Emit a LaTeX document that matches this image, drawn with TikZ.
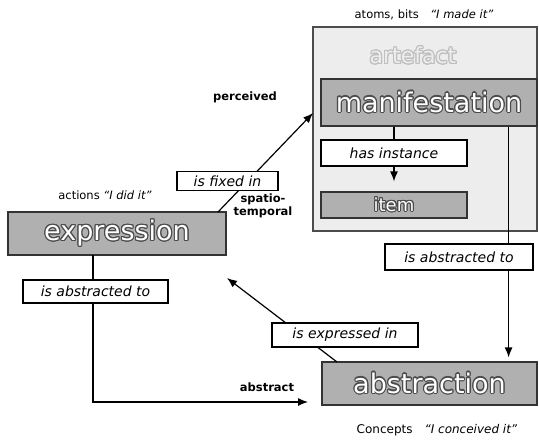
\documentclass[tikz,border=0pt]{standalone}
\usepackage{fontspec}
\setmainfont{DejaVu Sans}
\usepackage[copies]{contour}
\usetikzlibrary{arrows.meta}
\usetikzlibrary{calc}
\tikzset{>={Latex[length=10,width=8]}}
\contourlength{1.1pt}
\colorlet{boxcol}{gray!62}
\colorlet{artcol}{gray!14}
\colorlet{rimcol}{black!80}
\tikzstyle{artbox}=[draw=black!70,line width=1.2,fill=artcol,inner sep=0,minimum width=224,minimum height=204]
\tikzstyle{darkbox}=[draw=rimcol,line width=1.2,fill=boxcol,inner sep=0,font=\fontsize{27}{27}\selectfont]
\tikzstyle{relbox}=[draw=black,line width=1.2,fill=white,inner sep=0,font=\fontsize{14}{14}\selectfont\itshape]
\tikzstyle{tag}=[inner sep=0,font=\fontsize{11.5}{13}\selectfont\bfseries,align=center]
\tikzstyle{note}=[inner sep=0,font=\fontsize{11.5}{13}\selectfont]
\tikzstyle{link}=[line width=1.2,->]
\newcommand\boxtxt[1]{\textcolor{white}{\contour{black!70}{#1}}}

\begin{document}
\begin{tikzpicture}[x=1pt,y=-1pt]
  \useasboundingbox (0,0) rectangle (539,440);

  % ARTEFACT
  \node[artbox] (art) at (425,129) {};
  \node[inner sep=0,font=\fontsize{22}{22}\selectfont] (artlbl) at (413,56)
    {\textcolor{artcol}{\contour{gray!50}{artefact}}};
  \node[darkbox,minimum width=216,minimum height=47] (manif) at (429,102.5) {\boxtxt{manifestation}};
  \node[darkbox,minimum width=146,minimum height=26,font=\fontsize{18}{18}\selectfont] (item) at (394,205) {\boxtxt{item}};

  % BOXES
  \node[darkbox,minimum width=218,minimum height=43] (expr) at (117,233.5) {\boxtxt{expression}};
  \node[darkbox,minimum width=215,minimum height=43] (abstr) at (429.5,383.5) {\boxtxt{abstraction}};

  % LINES
  \coordinate (fixstart) at (218,212);
  \coordinate (fixend) at (313,113);
  \coordinate (absend) at (308,402);
  \coordinate (expstart) at (337,362);
  \coordinate (expend) at (227,278);
  \draw[link] (fixstart) -- (fixend);
  \draw[link,shorten >=10] (manif.south -| item.north) -- (item.north);
  \draw[link,shorten >=4] ($(manif.south east)+(-29,0)$) -- ($(abstr.north east)+(-29,0)$);
  \draw[link] (93,255) |- (absend);
  \draw[link] (expstart) -- (expend);

  % RELATIONS
  \node[relbox,minimum width=146,minimum height=26] (hasinst) at (394,153) {has instance};
  \node[relbox,minimum width=101,minimum height=19] (fixed) at (227.5,181) {is fixed in};
  \node[relbox,minimum width=145,minimum height=23] (absl) at (95.5,291.5) {is abstracted to};
  \node[relbox,minimum width=148,minimum height=26] (absr) at (459,257) {is abstracted to};
  \node[relbox,minimum width=146,minimum height=24] (expin) at (345,335) {is expressed in};

  % NOTES
  \node[note] (atoms) at (424,15) {atoms, bits\quad\textit{``I made it''}};
  \node[note] (actions) at (105,195) {actions \textit{``I did it''}};
  \node[note,font=\fontsize{12}{13}\selectfont] (concepts) at (437,430) {Concepts\quad\textit{``I conceived it''}};
  \node[tag] (perc) at (245,97) {perceived};
  \node[tag] (spatio) at (263,206) {spatio-\\temporal};
  \node[tag] (abst) at (267,387) {abstract};
\end{tikzpicture}
\end{document}
